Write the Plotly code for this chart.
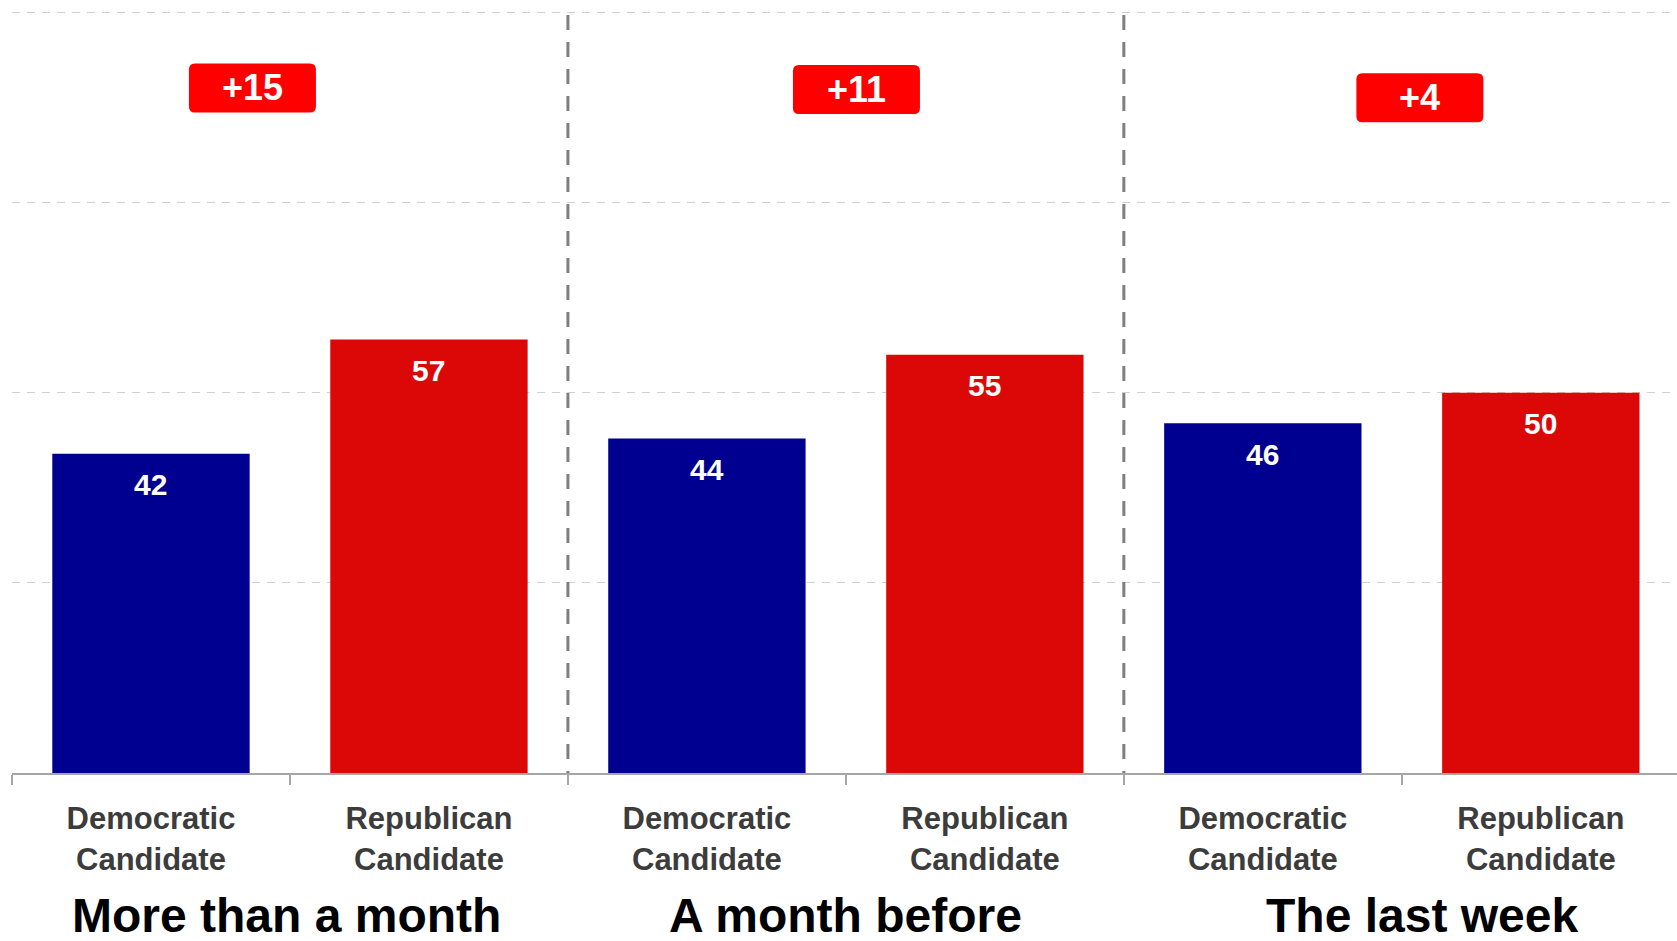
import plotly.graph_objects as go

# ---------------- data ----------------
periods = ["More than a month", "A month before", "The last week"]
parties = ["Democratic Candidate", "Republican Candidate"]
dem_values = [42, 44, 46]
rep_values = [57, 55, 50]
y_ticks = [0, 25, 50, 75, 100]

# category keys (unique) and their displayed tick labels
categories = [f"{p}|{party}" for p in periods for party in parties]
tick_labels = [party.replace(" ", "<br>") for p in periods for party in parties]
dem_cats = [f"{p}|{parties[0]}" for p in periods]
rep_cats = [f"{p}|{parties[1]}" for p in periods]
leads = [r - d for d, r in zip(dem_values, rep_values)]
lead_labels = [f"+{v}" for v in leads]

# ---------------- styling / layout constants ----------------
FONT = "Liberation Sans, Arial, Helvetica, sans-serif"
DEM_COLOR = "#000090"
REP_COLOR = "#DC0808"
BOX_COLOR = "#FF0000"
box_x = [0.365, 2.538, 4.565]      # category-axis units
box_y = [90.1, 89.9, 88.8]         # data units
title_x = [0.486, 2.50, 4.572]
TITLE_Y = -0.1855                  # paper units
SEP_Y0 = -15.9                     # data units (below the axis)
BOX_W, BOX_H, R = 127, 49, 6

fig = go.Figure()
fig.add_trace(go.Bar(x=dem_cats, y=dem_values, marker=dict(color=DEM_COLOR, line=dict(width=0)),
                     name=parties[0], hoverinfo="x+y"))
fig.add_trace(go.Bar(x=rep_cats, y=rep_values, marker=dict(color=REP_COLOR, line=dict(width=0)),
                     name=parties[1], hoverinfo="x+y"))

annotations = []
# value labels inside bars
for cats, vals in ((dem_cats, dem_values), (rep_cats, rep_values)):
    for c, v in zip(cats, vals):
        annotations.append(dict(x=c, y=v, xref="x", yref="y", text=str(v), showarrow=False,
                                yanchor="middle", xanchor="center", yshift=-31,
                                font=dict(family=FONT, size=30, color="white", weight="bold")))

# lead boxes (rounded rects) + text
shapes = []
w2, h2 = BOX_W / 2, BOX_H / 2
path = (f"M {-w2+R},{-h2} L {w2-R},{-h2} Q {w2},{-h2} {w2},{-h2+R} "
        f"L {w2},{h2-R} Q {w2},{h2} {w2-R},{h2} L {-w2+R},{h2} "
        f"Q {-w2},{h2} {-w2},{h2-R} L {-w2},{-h2+R} Q {-w2},{-h2} {-w2+R},{-h2} Z")
for bx, by, lab in zip(box_x, box_y, lead_labels):
    shapes.append(dict(type="path", xref="x", yref="y", xsizemode="pixel", ysizemode="pixel",
                       xanchor=bx, yanchor=by, path=path, fillcolor=BOX_COLOR,
                       line=dict(width=0), layer="above"))
    annotations.append(dict(x=bx, y=by, xref="x", yref="y", text=lab, showarrow=False,
                            xanchor="center", yanchor="middle",
                            font=dict(family=FONT, size=36, color="white", weight="bold")))

# group titles
for tx, p in zip(title_x, periods):
    annotations.append(dict(x=tx, y=TITLE_Y, xref="x", yref="paper", text=p, showarrow=False,
                            xanchor="center", yanchor="middle",
                            font=dict(family=FONT, size=48, color="black", weight="bold")))

# vertical dashed separators between groups
for sx in (1.5, 3.5):
    shapes.append(dict(type="line", xref="x", yref="y", x0=sx, x1=sx, y0=SEP_Y0, y1=y_ticks[-1],
                       line=dict(color="#7f7f7f", width=3, dash="15px,12px"), layer="above"))

fig.update_layout(
    width=1677, height=941,
    margin=dict(l=12, r=0, t=5, b=168, pad=0),
    paper_bgcolor="white", plot_bgcolor="white",
    barmode="overlay", bargap=0.29,
    showlegend=False,
    annotations=annotations, shapes=shapes,
    font=dict(family=FONT),
)
fig.update_xaxes(
    type="category", categoryorder="array", categoryarray=categories,
    tickmode="array", tickvals=categories, ticktext=tick_labels,
    range=[-0.5, 5.49], tickson="boundaries",
    ticks="outside", ticklen=10, tickwidth=2, tickcolor="#a6a6a6",
    ticklabelstandoff=17,
    showline=True, linecolor="#a6a6a6", linewidth=2,
    showgrid=False, zeroline=False,
    tickfont=dict(family=FONT, size=31, color="#3c3c3c", weight="bold"),
    fixedrange=True,
)
fig.update_yaxes(
    range=[0, 101], tickmode="array", tickvals=y_ticks,
    showticklabels=False, showgrid=True, gridcolor="#d0d0d0", gridwidth=1,
    griddash="8px,7px", zeroline=False, showline=False, ticks="", fixedrange=True,
)

fig.write_html("out.html", config={"displayModeBar": False},
               post_script="document.body.style.margin='0';")
